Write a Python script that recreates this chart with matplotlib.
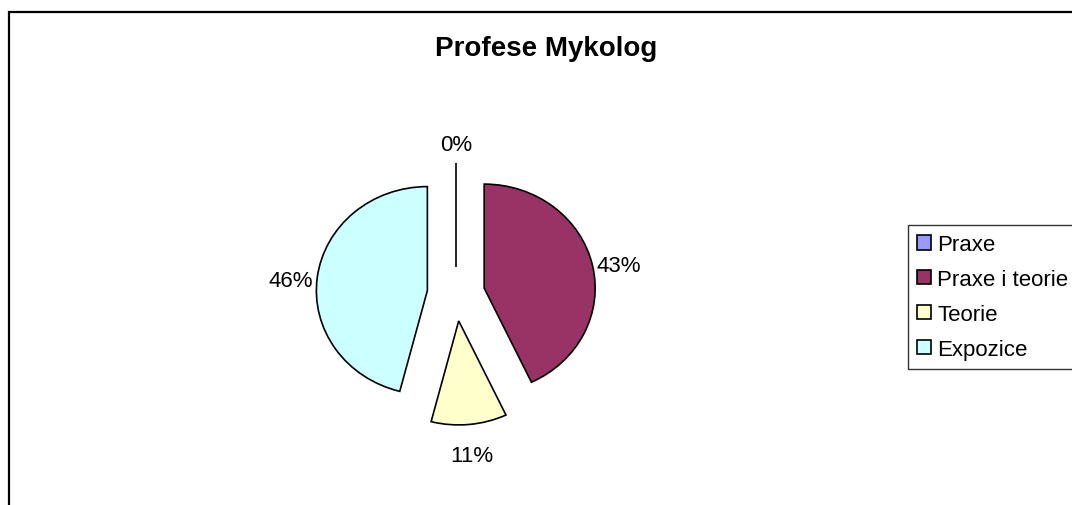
import matplotlib
matplotlib.use('Agg')
import matplotlib.pyplot as plt
import matplotlib.transforms as mtransforms
from matplotlib.patches import Rectangle

plt.rcParams['font.family'] = ['Liberation Sans', 'DejaVu Sans']

# podily odpovedi (%)
categories = ['Praxe', 'Praxe i teorie', 'Teorie', 'Expozice']
shares = [0, 43, 11, 46]
colors = ['#9999FF', '#993366', '#FFFFCC', '#CCFFFF']

W, H = 1072, 506
fig = plt.figure(figsize=(W / 100, H / 100), dpi=100)

# stred kolace a polomery v pixelech (elipsa jako v Excelu)
cx, cy = 456, 295
rx, ry = 111, 104
lim = 1.6
ax = fig.add_axes([(cx - lim * rx) / W, (H - cy - lim * ry) / H,
                   2 * lim * rx / W, 2 * lim * ry / H])

wedges, texts, autotexts = ax.pie(
    shares, colors=colors, startangle=90, counterclock=False,
    explode=[0.26] * len(shares), autopct='%.0f%%', pctdistance=1.24,
    wedgeprops=dict(edgecolor='black', linewidth=1.2),
    textprops=dict(fontsize=16, color='black'))
ax.set_aspect('auto')
ax.set_xlim(-lim, lim)
ax.set_ylim(-lim, lim)
ax.axis('off')

# popisky v Excelu sedi o kousek niz
shift = mtransforms.ScaledTranslation(0, -6 / 100, fig.dpi_scale_trans)
for t in autotexts:
    t.set_transform(t.get_transform() + shift)

fig.text(546 / W, 1 - 56 / H, 'Profese Mykolog', ha='center', va='baseline',
         fontsize=20, fontweight='bold')

leg = fig.legend(wedges, categories, loc='upper left',
                 bbox_to_anchor=(908 / W, 1 - 226 / H),
                 fontsize=16, frameon=True, fancybox=False,
                 handlelength=0.6, handleheight=0.6, handletextpad=0.3,
                 labelspacing=0.62, borderpad=0.42, borderaxespad=0)
leg.get_frame().set_edgecolor('black')
leg.get_frame().set_linewidth(1.0)

# ramecek grafu (pokracuje za pravy a dolni okraj)
fig.patches.append(Rectangle((9 / W, -0.1), 1.2, 1 - 13 / H + 0.1,
                             transform=fig.transFigure, fill=False,
                             edgecolor='black', linewidth=1.6))

fig.savefig('out.png', dpi=100)
